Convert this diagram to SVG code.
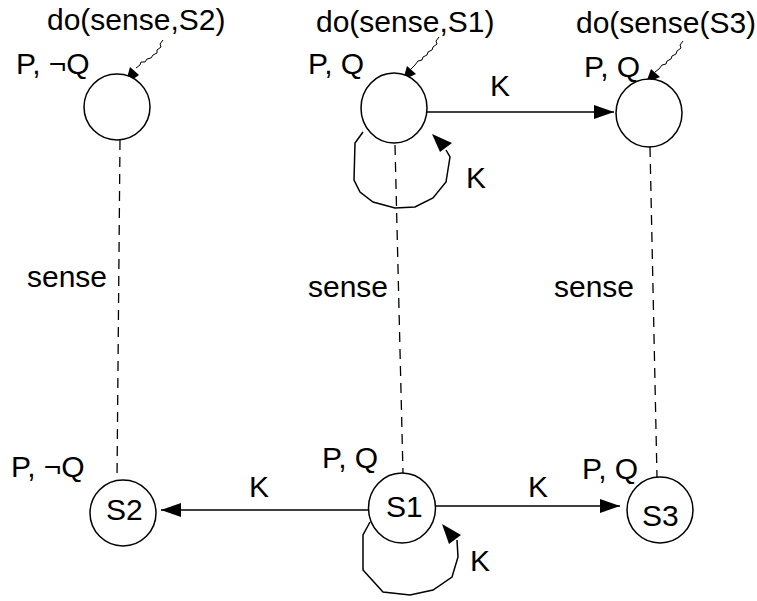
<svg xmlns="http://www.w3.org/2000/svg" width="757" height="601" viewBox="0 0 757 601">
<style>
text{font-family:"Liberation Sans",Arial,sans-serif;font-size:30px;fill:#000}
.n{fill:#fff;stroke:#000;stroke-width:1.5}
.e{fill:none;stroke:#000;stroke-width:1.5}
.d{fill:none;stroke:#000;stroke-width:1.3;stroke-dasharray:10 7}
.s{fill:none;stroke:#000;stroke-width:1}
.h{fill:#000;stroke:none}
</style>
<defs>
<marker id="ah" markerUnits="userSpaceOnUse" markerWidth="22" markerHeight="16" refX="20" refY="7" orient="auto">
<path d="M0,0 L20,7 L0,14 Z" fill="#000"/>
</marker>
</defs>
<g id="connectors">
<line class="d" x1="120" y1="140" x2="117" y2="480"/>
<line class="d" x1="395" y1="145" x2="403" y2="473"/>
<line class="d" x1="650" y1="147" x2="657" y2="477"/>
<line class="e" x1="427" y1="112" x2="614" y2="112" marker-end="url(#ah)"/>
<line class="e" x1="368" y1="510" x2="161" y2="510" marker-end="url(#ah)"/>
<line class="e" x1="436" y1="506" x2="620" y2="506" marker-end="url(#ah)"/>
<path class="e" d="M363,132 L355,143 L354,180 L360,192 L373,202 L395,208 L415,207 L433,198 L446,182 L450,157 L446,150"/>
<path class="h" d="M432,134 L440,152 L452,143 Z"/>
<path class="e" d="M370,522 L363,535 L363,570 L383,592 L410,595 L433,590 L452,577 L458,557 L457,540"/>
<path class="h" d="M442,524 L449,544 L461,535 Z"/>
<path class="s" d="M163,40 L160,44 L161,47 L157,50 L157,53 L153,55 L151,58 L147,59 L145,62 L141,62 L140,65 L136,68"/>
<path class="h" d="M125,85 L130,67 L139,75 Z"/>
<path class="s" d="M439,37 L436,41 L437,44 L433,47 L432,50 L428,52 L427,55 L423,57 L422,60 L418,61 L415,65 L410,70"/>
<path class="h" d="M403,80 L407,66 L416,74 Z"/>
<path class="s" d="M683,41 L680,45 L681,48 L677,51 L676,54 L672,56 L671,59 L667,61 L666,64 L662,65 L659,69 L655,72"/>
<path class="h" d="M646,83 L651,69 L660,77 Z"/>
</g>
<g id="w2">
<circle class="n" cx="117" cy="107" r="33"/>
<text x="47" y="30">do(sense,S2)</text>
<text x="16" y="74">P, ¬Q</text>
</g>
<g id="w1">
<ellipse class="n" cx="394" cy="108" rx="33" ry="35"/>
<text x="316" y="32">do(sense,S1)</text>
<text x="308" y="74">P, Q</text>
</g>
<g id="w3">
<ellipse class="n" cx="649" cy="113" rx="33" ry="34"/>
<text x="576" y="33">do(sense(S3)</text>
<text x="584" y="77">P, Q</text>
</g>
<g id="S2">
<circle class="n" cx="123" cy="513" r="33"/>
<text x="106" y="520">S2</text>
<text x="11" y="477">P, ¬Q</text>
</g>
<g id="S1">
<ellipse class="n" cx="402" cy="508" rx="33.5" ry="35"/>
<text x="386" y="517">S1</text>
<text x="322" y="468">P, Q</text>
</g>
<g id="S3">
<circle class="n" cx="660" cy="510" r="33"/>
<text x="642" y="526">S3</text>
<text x="582" y="479">P, Q</text>
</g>
<g id="labels">
<text x="490" y="96">K</text>
<text x="466" y="188">K</text>
<text x="249" y="497">K</text>
<text x="528" y="497">K</text>
<text x="470" y="571">K</text>
<text x="27" y="287">sense</text>
<text x="308" y="297">sense</text>
<text x="554" y="297">sense</text>
</g>
</svg>
